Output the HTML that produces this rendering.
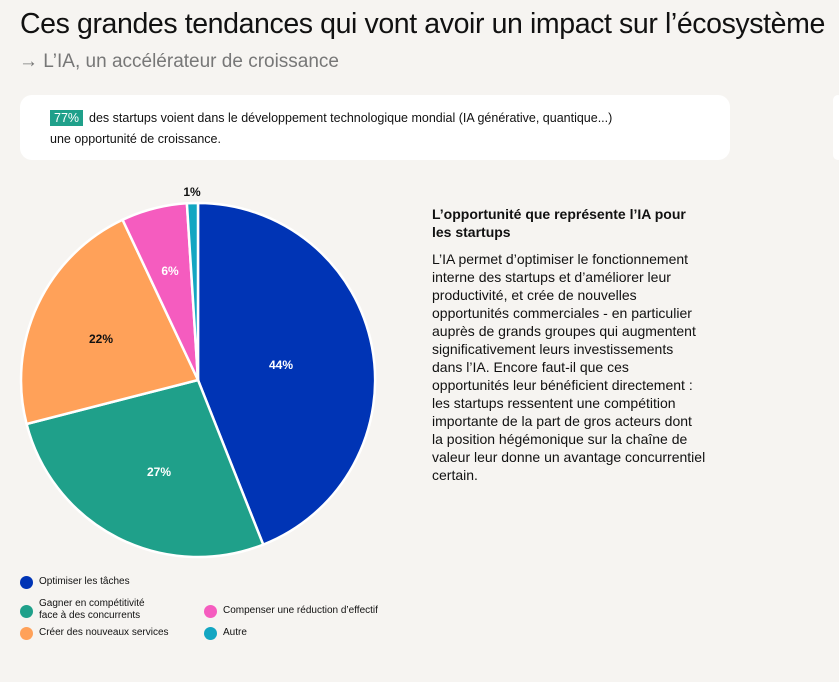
<!DOCTYPE html>
<html><head><meta charset="utf-8"><style>
body{margin:0;width:839px;height:682px;background:#f6f4f1;font-family:"Liberation Sans",sans-serif;position:relative;overflow:hidden;color:#111}
.a{position:absolute;white-space:nowrap}
</style></head><body>
<div class="a" style="left:20px;top:8px;font-size:28.5px;letter-spacing:-0.4px;color:#111">Ces grandes tendances qui vont avoir un impact sur l’écosystème</div>
<div class="a" style="left:19px;top:51px;font-size:19px;color:#777">→ L’IA, un accélérateur de croissance</div>
<div class="a" style="left:20px;top:95px;width:710px;height:65px;background:#fff;border-radius:12px"></div>
<div class="a" style="left:50px;top:108px;font-size:12.5px;line-height:21px;color:#111"><span style="background:#1fa08a;color:#fff;padding:1px 4px;margin-right:6px">77%</span>des startups voient dans le développement technologique mondial (IA générative, quantique...)<br>une opportunité de croissance.</div>
<div class="a" style="left:833px;top:95px;width:10px;height:65px;background:#fff;border-radius:8px"></div>
<svg class="a" style="left:0;top:0" width="420" height="580">
<g stroke="#fff" stroke-width="2.5">
<path d="M198,380 L198,203 A177,177 0 0 1 263.2,544.6 Z" fill="#0034b5"/>
<path d="M198,380 L263.2,544.6 A177,177 0 0 1 26.6,424 Z" fill="#1fa08a"/>
<path d="M198,380 L26.6,424 A177,177 0 0 1 122.6,219.8 Z" fill="#ffa159"/>
<path d="M198,380 L122.6,219.8 A177,177 0 0 1 186.9,203.3 Z" fill="#f55cbf"/>
<path d="M198,380 L186.9,203.3 A177,177 0 0 1 198,203 Z" fill="#13a6c2"/>
</g>
<g font-family="Liberation Sans" font-size="12" font-weight="bold" text-anchor="middle">
<text x="281" y="369" fill="#fff">44%</text>
<text x="159" y="476" fill="#fff">27%</text>
<text x="101" y="343" fill="#111">22%</text>
<text x="170" y="275" fill="#fff">6%</text>
<text x="192" y="196" fill="#111">1%</text>
</g>
</svg>
<div class="a" style="left:432px;top:205px;font-size:14px;font-weight:bold;line-height:18px">L’opportunité que représente l’IA pour<br>les startups</div>
<div class="a" style="left:432px;top:250px;font-size:14px;line-height:18px;color:#111">L’IA permet d’optimiser le fonctionnement<br>interne des startups et d’améliorer leur<br>productivité, et crée de nouvelles<br>opportunités commerciales - en particulier<br>auprès de grands groupes qui augmentent<br>significativement leurs investissements<br>dans l’IA. Encore faut-il que ces<br>opportunités leur bénéficient directement :<br>les startups ressentent une compétition<br>importante de la part de gros acteurs dont<br>la position hégémonique sur la chaîne de<br>valeur leur donne un avantage concurrentiel<br>certain.</div>
<div style="font-size:10px;color:#111">
<div class="a" style="left:20px;top:576px;width:13px;height:13px;border-radius:50%;background:#0034b5"></div>
<div class="a" style="left:39px;top:576px">Optimiser les tâches</div>
<div class="a" style="left:20px;top:605px;width:13px;height:13px;border-radius:50%;background:#1fa08a"></div>
<div class="a" style="left:39px;top:598px;line-height:12px">Gagner en compétitivité<br>face à des concurrents</div>
<div class="a" style="left:20px;top:627px;width:13px;height:13px;border-radius:50%;background:#ffa159"></div>
<div class="a" style="left:39px;top:627px">Créer des nouveaux services</div>
<div class="a" style="left:204px;top:605px;width:13px;height:13px;border-radius:50%;background:#f55cbf"></div>
<div class="a" style="left:223px;top:605px">Compenser une réduction d’effectif</div>
<div class="a" style="left:204px;top:627px;width:13px;height:13px;border-radius:50%;background:#13a6c2"></div>
<div class="a" style="left:223px;top:627px">Autre</div>
</div>
</body></html>
